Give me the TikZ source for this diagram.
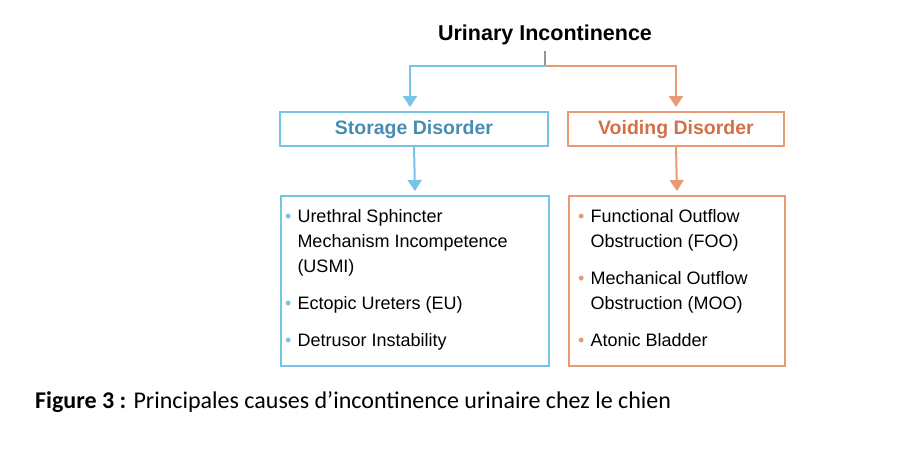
\documentclass[tikz,border=0pt]{standalone}
\usepackage{fontspec}
\setmainfont{Liberation Sans}
\newfontfamily\capfont{Carlito}
\usetikzlibrary{positioning,arrows.meta}
\definecolor{stblue}{RGB}{120,195,232}
\definecolor{sttext}{RGB}{72,140,180}
\definecolor{voorange}{RGB}{232,155,115}
\definecolor{votext}{RGB}{212,112,72}
\definecolor{stemgray}{RGB}{150,150,150}
\newcommand{\itm}[2]{\textcolor{#1}{\textbullet} & #2}
\begin{document}
\begin{tikzpicture}[x=1pt,y=1pt,
    head/.style={draw=#1, line width=2pt, minimum height=34pt, font=\fontsize{19.5}{22}\selectfont\bfseries},
    listbox/.style={draw=#1, line width=2pt, minimum height=170pt, anchor=north west, inner sep=0pt},
    link/.style={draw=#1, line width=2pt, -{Triangle[length=11pt,width=14pt]}}]
  \useasboundingbox (0,0) rectangle (918,-458);
  % title
  \node[font=\fontsize{21.5}{24}\selectfont\bfseries] (title) at (545,-35) {Urinary Incontinence};
  % second row
  \node[head=stblue, text=sttext, minimum width=268pt] (storage) at (414,-129) {Storage Disorder};
  \node[head=voorange, text=votext, minimum width=216pt] (voiding) at (676,-129) {Voiding Disorder};
  \coordinate (split) at (545,-66);
  \coordinate (stdrop) at (410,-66);
  \draw[stemgray, line width=2pt] ([yshift=-2pt]title.south) -- (split);
  \draw[link=stblue] (split) -- (stdrop) -- ([xshift=-4pt,yshift=4pt]storage.north);
  \draw[link=voorange] (split) -| ([yshift=4pt]voiding.north);
  % lists
  \node[listbox=stblue, minimum width=268pt] (stlist) at (280,-195) {};
  \node[listbox=voorange, minimum width=216pt] (volist) at (568,-195) {};
  \draw[link=stblue] (storage.south) -- ([yshift=4pt]stlist.north);
  \draw[link=voorange] (voiding.south) -- ([yshift=4pt]volist.north);
  \node[anchor=north west, font=\fontsize{18}{25}\selectfont, inner sep=0pt] (stitems) at (285,-205) {%
    \begin{tabular}{@{}l@{\hspace{6pt}}l@{}}
      \itm{stblue}{Urethral Sphincter}\\
      & Mechanism Incompetence\\
      & (USMI)\\[12pt]
      \itm{stblue}{Ectopic Ureters (EU)}\\[12pt]
      \itm{stblue}{Detrusor Instability}
    \end{tabular}};
  \node[anchor=north west, font=\fontsize{18}{25}\selectfont, inner sep=0pt] (voitems) at (578,-205) {%
    \begin{tabular}{@{}l@{\hspace{6pt}}l@{}}
      \itm{voorange}{Functional Outflow}\\
      & Obstruction (FOO)\\[12pt]
      \itm{voorange}{Mechanical Outflow}\\
      & Obstruction (MOO)\\[12pt]
      \itm{voorange}{Atonic Bladder}
    \end{tabular}};
  % caption
  \node[anchor=west, font=\capfont\fontsize{24}{26}\selectfont, inner sep=0pt] (caption) at (35,-402) {\textbf{Figure 3 :} Principales causes d’incontinence urinaire chez le chien};
\end{tikzpicture}
\end{document}
